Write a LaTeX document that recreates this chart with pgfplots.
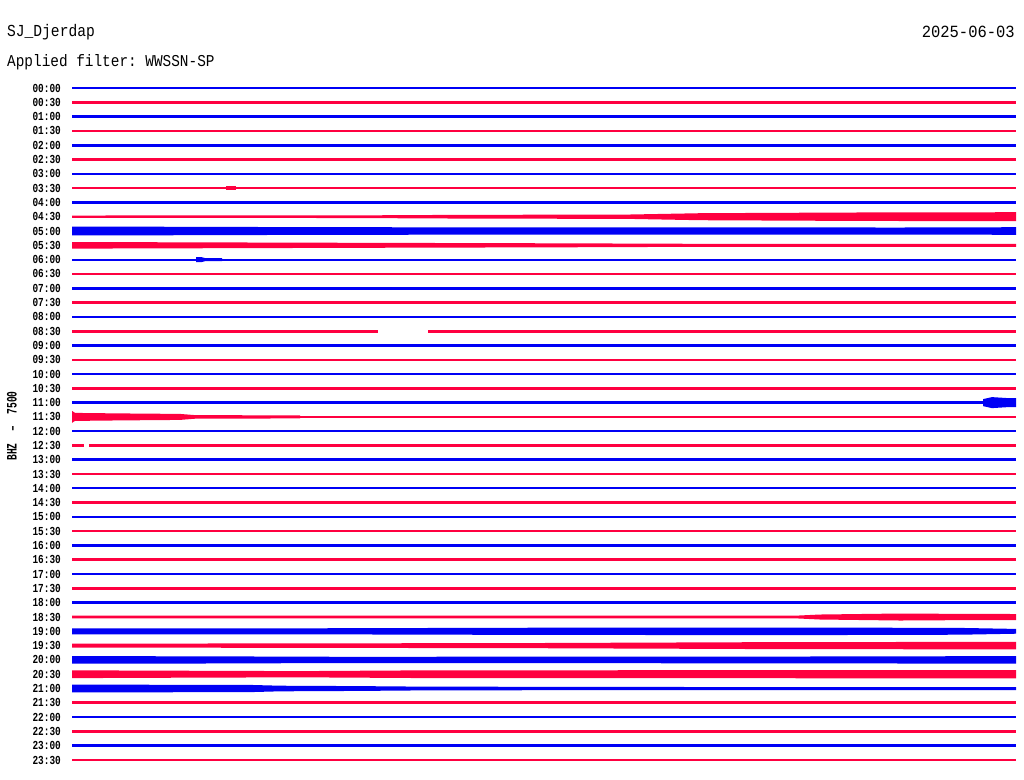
\documentclass[border=0pt]{standalone}
\usepackage{pgfplots}
\pgfplotsset{compat=1.18}
\usepackage{graphicx}
\usepackage{fontspec}
\setmainfont{Liberation Mono}
\frenchspacing
\definecolor{tb}{RGB}{0,0,245}
\definecolor{tr}{RGB}{255,0,64}
% quiet trace: centre y (px), colour, line width (px)
\newcommand\qline[3]{\addplot[#2, line width=#3bp, forget plot] coordinates {(72,#1) (1016,#1)};}
% partial quiet trace: centre, colour, width, x0, x1
\newcommand\pline[5]{\addplot[#2, line width=#3bp, forget plot] coordinates {(#4,#1) (#5,#1)};}
% envelope polygon: centre y, colour, rows "x offset"
\newcommand\env[3]{\addplot[fill=#2, draw=none, forget plot] table[header=false, row sep=\\, x index=0, y expr={#1+\thisrowno{1}}] {#3};}
\begin{document}
\begin{tikzpicture}
\useasboundingbox (0,0) rectangle (1024bp,-780bp);
\node[anchor=base west, inner sep=0pt, font=\fontsize{14.6bp}{18bp}\selectfont] at (7bp,-37bp) {\scalebox{1}[1.15]{SJ\_Djerdap}};
\node[anchor=base west, inner sep=0pt, font=\fontsize{14.4bp}{18bp}\selectfont] at (7bp,-66bp) {\scalebox{1}[1.15]{Applied filter: WWSSN-SP}};
\node[anchor=base east, inner sep=0pt, font=\fontsize{15.5bp}{18bp}\selectfont] at (1015bp,-37bp) {\scalebox{1}[1.1]{2025-06-03}};
\node[rotate=90, inner sep=0pt, font=\fontsize{9.6bp}{11bp}\selectfont\bfseries] at (12bp,-426bp) {\scalebox{1}[1.5]{BHZ \ – \ 7500}};
\begin{axis}[
  at={(72bp,-88bp)}, anchor=north west,
  scale only axis, width=944bp, height=672bp,
  xmin=72, xmax=1016, ymin=88, ymax=760, y dir=reverse,
  clip=false,
  axis line style={draw=none}, major tick length=0pt,
  xtick=\empty,
  ytick={88.0,102.3,116.6,130.9,145.2,159.5,173.8,188.1,202.4,216.7,231.0,245.3,259.6,273.9,288.2,302.5,316.8,331.1,345.4,359.7,374.0,388.3,402.6,416.9,431.2,445.4,459.7,474.0,488.3,502.6,516.9,531.2,545.5,559.8,574.1,588.4,602.7,617.0,631.3,645.6,659.9,674.2,688.5,702.8,717.1,731.4,745.7,760.0},
  yticklabels={00:00,00:30,01:00,01:30,02:00,02:30,03:00,03:30,04:00,04:30,05:00,05:30,06:00,06:30,07:00,07:30,08:00,08:30,09:00,09:30,10:00,10:30,11:00,11:30,12:00,12:30,13:00,13:30,14:00,14:30,15:00,15:30,16:00,16:30,17:00,17:30,18:00,18:30,19:00,19:30,20:00,20:30,21:00,21:30,22:00,22:30,23:00,23:30},
  yticklabel style={font=\fontsize{9.4bp}{10bp}\selectfont\bfseries, inner sep=0pt, anchor=east, xshift=-11bp, yscale=1.3},
]
% 00:00 - 03:30
\qline{88.0}{tb}{2.6}
\qline{102.3}{tr}{3.0}
\qline{116.6}{tb}{2.8}
\qline{130.9}{tr}{2.4}
\qline{145.2}{tb}{2.8}
\qline{159.5}{tr}{2.8}
\qline{173.8}{tb}{2.4}
\qline{188.1}{tr}{2.4}
\env{188.1}{tr}{226 -1.8\\236 -1.8\\236 1.8\\226 1.8\\}
% 04:00
\qline{202.4}{tb}{2.6}
% 04:30
\env{216.7}{tr}{72 -1.2\\350 -1.3\\450 -1.8\\630 -2.2\\700 -3.5\\850 -4.2\\1016 -4.5\\1016 4.5\\850 4.2\\700 3.5\\630 2.2\\450 1.8\\350 1.3\\72 1.2\\}
% 05:00
\env{231.0}{tb}{72 -4.3\\150 -4.3\\300 -3.9\\500 -3.6\\700 -3.6\\900 -3.5\\1016 -3.8\\1016 3.8\\900 3.5\\700 3.6\\500 3.6\\300 3.9\\150 4.3\\72 4.3\\}
% 05:30
\env{245.3}{tr}{72 -3.3\\180 -3.0\\360 -2.5\\560 -2.0\\700 -1.5\\1016 -1.5\\1016 1.5\\700 1.5\\560 2.0\\360 2.5\\180 3.0\\72 3.3\\}
% 06:00
\qline{259.6}{tb}{2.2}
\env{259.6}{tb}{196 -2.6\\201 -2.6\\205 -1.6\\222 -1.6\\222 1.6\\205 1.6\\201 2.6\\196 2.6\\}
% 06:30 - 08:00
\qline{273.9}{tr}{2.2}
\qline{288.2}{tb}{2.8}
\qline{302.5}{tr}{2.2}
\qline{316.8}{tb}{2.2}
% 08:30 with gap
\pline{331.1}{tr}{2.8}{72}{378}
\pline{331.1}{tr}{2.8}{428}{1016}
% 09:00 - 10:30
\qline{345.4}{tb}{2.4}
\qline{359.7}{tr}{2.2}
\qline{374.0}{tb}{2.8}
\qline{388.3}{tr}{2.4}
% 11:00 with burst
\qline{402.6}{tb}{2.6}
\env{402.6}{tb}{983 -3.5\\992 -5.5\\1000 -5\\1008 -4.5\\1016 -4.5\\1016 4.5\\1008 4.5\\1000 5\\992 5.5\\983 3.5\\}
% 11:30
\qline{416.9}{tr}{2.6}
\env{416.9}{tr}{72 -6\\75 -4\\120 -3.5\\180 -3\\195 -1.8\\300 -1.5\\300 1.5\\195 1.8\\180 3\\120 3.5\\75 4\\72 6\\}
% 12:00
\qline{431.2}{tb}{2.4}
% 12:30
\pline{445.4}{tr}{2.6}{72}{84}
\pline{445.4}{tr}{2.6}{89}{1016}
% 13:00 - 18:00
\qline{459.7}{tb}{2.8}
\qline{474.0}{tr}{2.2}
\qline{488.3}{tb}{2.2}
\qline{502.6}{tr}{2.8}
\qline{516.9}{tb}{2.8}
\qline{531.2}{tr}{2.2}
\qline{545.5}{tb}{2.2}
\qline{559.8}{tr}{2.8}
\qline{574.1}{tb}{2.4}
\qline{588.4}{tr}{2.2}
\qline{602.7}{tb}{3.0}
% 18:30
\env{617.0}{tr}{72 -1.4\\797 -1.4\\820 -2.5\\900 -3.5\\950 -3.2\\1016 -3\\1016 3\\950 3.2\\900 3.5\\820 2.5\\797 1.4\\72 1.4\\}
% 19:00
\env{631.3}{tb}{72 -3\\300 -3\\540 -3.6\\800 -3.8\\960 -3.4\\1016 -2.4\\1016 2.4\\960 3.4\\800 3.8\\540 3.6\\300 3\\72 3\\}
% 19:30
\env{645.6}{tr}{72 -2\\300 -2.2\\540 -2.6\\750 -3.4\\1016 -3.8\\1016 3.8\\750 3.4\\540 2.6\\300 2.2\\72 2\\}
% 20:00
\env{659.9}{tb}{72 -3.8\\200 -3.6\\350 -3.1\\600 -3.3\\800 -3.4\\1016 -3.8\\1016 3.8\\800 3.4\\600 3.3\\350 3.1\\200 3.6\\72 3.8\\}
% 20:30
\env{674.2}{tr}{72 -3.9\\150 -3.6\\300 -3.1\\430 -3.9\\700 -4\\1016 -4.1\\1016 4.1\\700 4\\430 3.9\\300 3.1\\150 3.6\\72 3.9\\}
% 21:00
\env{688.5}{tb}{72 -3.9\\250 -3.6\\280 -2.8\\360 -2.4\\420 -1.9\\540 -1.7\\700 -1.5\\1016 -1.5\\1016 1.5\\700 1.5\\540 1.7\\420 1.9\\360 2.4\\280 2.8\\250 3.6\\72 3.9\\}
% 21:30 - 23:30
\qline{702.8}{tr}{2.8}
\qline{717.1}{tb}{2.2}
\qline{731.4}{tr}{2.8}
\qline{745.7}{tb}{2.8}
\qline{760.0}{tr}{2.4}
\end{axis}
\end{tikzpicture}
\end{document}
